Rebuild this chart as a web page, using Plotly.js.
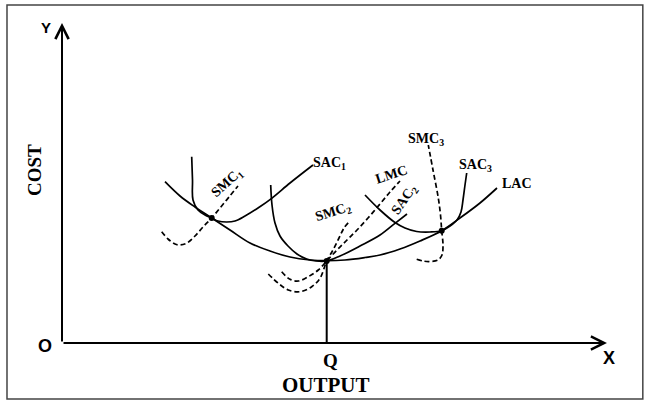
<!DOCTYPE html>
<html>
<head>
<meta charset="utf-8">
<script src="https://cdn.plot.ly/plotly-3.0.1.min.js"></script>
<style>html,body{margin:0;padding:0;background:#fff;}#chart{width:648px;height:401px;}</style>
</head>
<body>
<div id="chart"></div>
<script>
// ---- data (units: output on x, cost on y; origin O = (0,0)) ----
const lacX = [103, 118, 133, 149.7, 168, 188, 208, 228, 248, 264.7, 283, 303, 318, 338, 358, 379.7, 398, 418, 435];
const lacY = [161.3, 147, 136, 125, 113, 100, 92, 86, 83, 82.3, 83, 85.5, 88, 94, 102, 112.3, 125, 140, 155];

const sac1X = [129.7, 130.5, 131, 136, 143, 149.7, 156, 164.7, 173, 183, 196, 209.7, 228, 251];
const sac1Y = [186.3, 163, 143, 133, 128, 125, 122, 121, 122, 127, 135, 144.7, 160, 178];

const smc1X = [99.7, 106, 113, 118, 125, 133, 141, 149.7, 158, 167, 176];
const smc1Y = [111.3, 104, 99, 98, 100, 107, 116, 125, 135, 146, 157];

const sac2X = [208.7, 210, 213, 218, 226, 235, 244.7, 254, 264.7, 278, 298, 318, 333, 345];
const sac2Y = [158, 138, 120, 107, 97, 89, 84, 82, 82, 87, 97, 108, 119.7, 129];

const smc2X = [206.3, 216.3, 226.3, 238, 249.7, 258, 264.7, 271, 277, 282, 287];
const smc2Y = [69, 59.7, 53, 51.3, 56.3, 64.7, 82, 93, 105, 115, 121];

const lmcX = [219.7, 228, 236.3, 246.3, 256.3, 264.7, 275, 285, 295, 306, 318, 328, 338];
const lmcY = [71.3, 63.7, 62, 66.3, 73, 82, 93, 103, 113, 125, 139, 151, 162];

const sac3X = [303, 318, 333, 343, 354.7, 368, 379.7, 388, 395, 399, 401, 403, 404.7];
const sac3Y = [148, 133, 120.5, 115, 111.5, 111, 112.3, 117, 123, 131, 143, 158, 170];

const smc3X = [354.7, 361, 368, 376, 380, 381, 379.7, 378.5, 376.3, 371, 366.3];
const smc3Y = [83.7, 82, 81.5, 83, 88, 98, 112.3, 128, 145, 173, 198];

const tangX = [149.7, 264.7, 379.7];
const tangY = [125, 82, 112.3];

const qX = [264.7, 264.7];
const qY = [0, 82];

const axisXEnd = [545, 0];
const axisYEnd = [0, 320];

const curveLabels = ['SAC<sub>1</sub>', 'SMC<sub>1</sub>', 'SMC<sub>2</sub>', 'LMC', 'SAC<sub>2</sub>', 'SMC<sub>3</sub>', 'SAC<sub>3</sub>', 'LAC'];
const curveLabelX = [267, 164.7, 271, 329, 342, 364, 413, 455];
const curveLabelY = [180, 160, 131, 169, 143, 204, 178, 160];
const curveLabelAngle = [0, -42, -18, -18, -55, 0, 0, 0];

const axisLabels = ['Y', 'O', 'X'];
const axisLabelX = [-16, -17, 547];
const axisLabelY = [316, -3, -15];

// ---- drawing ----
const solid = {color: '#000', width: 1.7, shape: 'spline', smoothing: 1};
const dashed = {color: '#000', width: 1.7, shape: 'spline', smoothing: 1, dash: '5px,3px'};
function line(x, y, l) { return {x: x, y: y, mode: 'lines', line: l, hoverinfo: 'skip'}; }

const traces = [
  line(lacX, lacY, solid),
  line(sac1X, sac1Y, solid),
  line(smc1X, smc1Y, dashed),
  line(sac2X, sac2Y, solid),
  line(smc2X, smc2Y, dashed),
  line(lmcX, lmcY, dashed),
  line(sac3X, sac3Y, solid),
  line(smc3X, smc3Y, dashed),
  line(qX, qY, {color: '#000', width: 2}),
  {x: tangX, y: tangY, mode: 'markers', marker: {color: '#000', size: 6}, hoverinfo: 'skip'}
];

const serif = 'Liberation Serif, Times New Roman, serif';
const sans = 'Liberation Sans, Arial, sans-serif';

const annotations = [
  {x: axisXEnd[0], y: axisXEnd[1], ax: 0, ay: 0, axref: 'x', ayref: 'y', xref: 'x', yref: 'y',
   text: '', showarrow: true, arrowhead: 5, arrowsize: 1.3, arrowwidth: 2, arrowcolor: '#000', standoff: 0, startstandoff: 0},
  {x: axisYEnd[0], y: axisYEnd[1], ax: 0, ay: 0, axref: 'x', ayref: 'y', xref: 'x', yref: 'y',
   text: '', showarrow: true, arrowhead: 5, arrowsize: 1.3, arrowwidth: 2, arrowcolor: '#000', standoff: 0, startstandoff: 0}
];
curveLabels.forEach((t, i) => annotations.push({
  x: curveLabelX[i], y: curveLabelY[i], xref: 'x', yref: 'y', text: '<b>' + t + '</b>',
  showarrow: false, textangle: curveLabelAngle[i], font: {family: serif, size: 14, color: '#000'}
}));
axisLabels.forEach((t, i) => annotations.push({
  x: axisLabelX[i], y: axisLabelY[i], xref: 'x', yref: 'y', text: '<b>' + t + '</b>',
  showarrow: false, font: {family: sans, size: i === 0 ? 15 : 18, color: '#000'}
}));
annotations.push({x: 268, y: -17, xref: 'x', yref: 'y', text: '<b>Q</b>', showarrow: false,
  font: {family: serif, size: 19, color: '#000'}});
annotations.push({x: 264, y: -42, xref: 'x', yref: 'y', text: '<b>OUTPUT</b>', showarrow: false,
  font: {family: serif, size: 21, color: '#000'}});
annotations.push({x: -28, y: 173, xref: 'x', yref: 'y', text: '<b>COST</b>', showarrow: false, textangle: -90,
  font: {family: serif, size: 19, color: '#000'}});

const layout = {
  width: 648, height: 401,
  margin: {l: 0, r: 0, t: 0, b: 0},
  paper_bgcolor: '#fff', plot_bgcolor: '#fff',
  showlegend: false,
  xaxis: {range: [-62, 586], visible: false, fixedrange: true},
  yaxis: {range: [-58, 343], visible: false, fixedrange: true},
  shapes: [{type: 'rect', xref: 'paper', yref: 'paper', x0: 0.0108, x1: 0.992, y0: 0.005, y1: 0.9875,
            line: {color: '#444', width: 1.5}}],
  annotations: annotations
};

Plotly.newPlot('chart', traces, layout, {staticPlot: true, displayModeBar: false});
</script>
</body>
</html>
